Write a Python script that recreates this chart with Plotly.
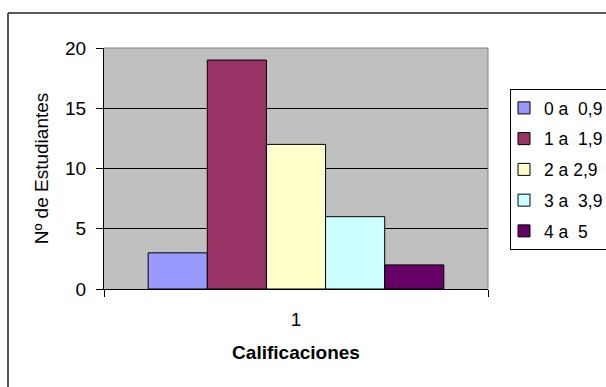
import plotly.graph_objects as go

categories = ["1"]
series_names = ["0 a\u00a0 0,9", "1 a\u00a0 1,9", "2 a 2,9", "3 a\u00a0 3,9", "4 a\u00a0 5"]
series_values = [3, 19, 12, 6, 2]
series_colors = ["#9999FF", "#993366", "#FFFFCC", "#CCFFFF", "#660066"]
y_ticks = [0, 5, 10, 15, 20]

W, H = 606, 387
L, R, T, B = 104, 488, 48, 289  # plot area in px

def px_x(p):
    return (p - L) / (R - L)

def px_y(p):
    return (B - p) / (B - T)

FONT = "Liberation Sans, Arial, sans-serif"

fig = go.Figure()
for i, (name, val, col) in enumerate(zip(series_names, series_values, series_colors)):
    fig.add_trace(go.Bar(
        x=categories, y=[val], name=name,
        marker=dict(color=col, line=dict(color="black", width=1)),
        legendgroup=f"g{i}",
    ))

fig.update_layout(
    width=W, height=H,
    margin=dict(l=L, r=W - R, t=T, b=H - B, autoexpand=False),
    paper_bgcolor="white",
    plot_bgcolor="#C0C0C0",
    barmode="group",
    bargap=0.23,
    bargroupgap=0,
    font=dict(family=FONT, size=19, color="black"),
    showlegend=True,
    legend=dict(
        x=px_x(510), y=px_y(89), xanchor="left", yanchor="top",
        bgcolor="white", bordercolor="black", borderwidth=1,
        font=dict(size=17.5, family=FONT),
        traceorder="grouped", tracegroupgap=5,
        itemwidth=30, indentation=-7,
        entrywidth=110, entrywidthmode="pixels",
    ),
    xaxis=dict(
        type="category", range=[-0.5, 0.5],
        showline=True, linecolor="black", linewidth=1,
        ticks="outside", tickson="boundaries", ticklen=7, tickcolor="black",
        showgrid=False, zeroline=False,
        ticklabelstandoff=13,
        title=dict(text="<b>Calificaciones</b>", standoff=16,
                   font=dict(size=19, family=FONT)),
        automargin=False,
    ),
    yaxis=dict(
        range=[0, 20], tickvals=y_ticks,
        showline=True, linecolor="black", linewidth=1,
        ticks="outside", ticklen=7, tickcolor="black",
        showgrid=True, gridcolor="black", gridwidth=1,
        zeroline=False,
        ticklabelstandoff=6,
        title=dict(text="Nº de Estudiantes", standoff=11,
                   font=dict(size=19, family=FONT)),
        automargin=False,
    ),
    shapes=[
        # plot area border (top and right) in gray
        dict(type="line", xref="paper", yref="paper", x0=0, x1=1, y0=1, y1=1,
             line=dict(color="#808080", width=1), layer="above"),
        dict(type="line", xref="paper", yref="paper", x0=1, x1=1, y0=0, y1=1,
             line=dict(color="#808080", width=1), layer="above"),
        # outer chart border (left and top visible)
        dict(type="line", xref="paper", yref="paper",
             x0=px_x(8), x1=px_x(8), y0=px_y(13), y1=px_y(400),
             line=dict(color="#222222", width=1.5), layer="above"),
        dict(type="line", xref="paper", yref="paper",
             x0=px_x(8), x1=px_x(620), y0=px_y(13), y1=px_y(13),
             line=dict(color="#222222", width=1.5), layer="above"),
    ],
)

fig.write_html("out.html")
